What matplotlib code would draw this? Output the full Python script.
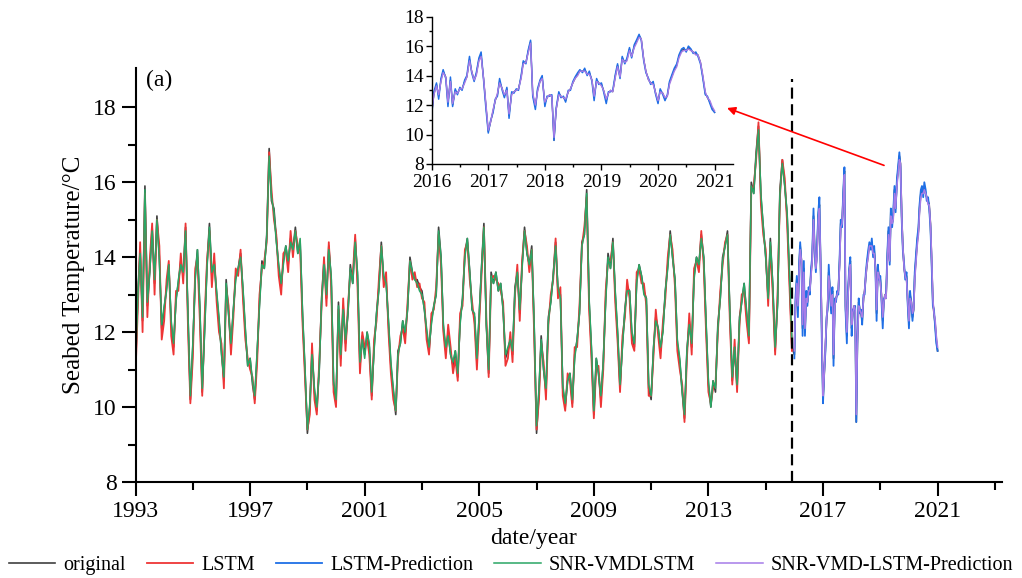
import numpy as np
import pandas as pd
import matplotlib
matplotlib.use("Agg")
import matplotlib.pyplot as plt

plt.rcParams['font.family'] = ['Liberation Serif', 'DejaVu Serif']

# monthly values 1993-01 .. 2015-12 (training part)
orig_train = [
    11.0, 13.1, 14.2, 12.3, 15.9, 12.7, 13.6, 14.8, 13.3, 15.1, 14.0, 12.1,
    12.6, 13.2, 13.8, 12.2, 11.6, 12.9, 13.3, 13.9, 13.5, 14.8, 12.4, 10.2,
    11.6, 13.5, 14.2, 12.6, 10.4, 12.1, 13.8, 14.9, 13.5, 13.9, 13.0, 12.3,
    11.5, 10.7, 13.4, 12.5, 11.6, 12.6, 13.5, 13.7, 14.1, 13.1, 12.0, 11.1,
    11.3, 10.6, 10.2, 11.4, 12.8, 13.9, 13.7, 14.6, 16.9, 15.5, 15.3, 14.5,
    13.7, 13.2, 13.9, 14.3, 13.8, 14.5, 14.2, 14.8, 14.1, 14.4, 12.4, 11.0,
    9.3, 10.0, 11.5, 10.4, 9.9, 11.0, 12.9, 13.9, 12.9, 14.3, 13.4, 10.6,
    10.1, 12.8, 11.3, 12.7, 11.7, 12.5, 13.8, 13.3, 14.5, 13.5, 11.1, 11.9,
    11.4, 12.0, 11.6, 10.3, 11.6, 12.5, 13.2, 14.4, 13.4, 13.4, 12.2, 11.1,
    10.4, 9.8, 11.5, 11.7, 12.3, 11.9, 12.6, 14.0, 13.6, 13.4, 13.4, 13.2,
    13.1, 12.6, 12.0, 11.5, 12.3, 12.7, 13.0, 14.8, 14.0, 12.1, 11.5, 12.0,
    11.4, 11.1, 11.5, 10.8, 12.3, 12.9, 14.1, 14.5, 13.6, 12.6, 12.4, 11.2,
    12.5, 13.8, 14.9, 12.2, 10.9, 13.6, 13.3, 13.6, 13.1, 13.3, 12.6, 11.3,
    11.5, 11.8, 11.4, 13.2, 13.6, 12.5, 13.8, 14.8, 14.1, 13.8, 14.3, 12.2,
    9.3, 10.4, 11.9, 11.0, 10.4, 12.4, 12.8, 13.5, 14.4, 13.1, 13.0, 10.5,
    10.0, 10.7, 10.9, 10.1, 11.4, 11.8, 12.5, 14.4, 14.6, 15.8, 12.8, 11.5,
    9.8, 11.3, 10.9, 10.2, 11.2, 12.9, 14.1, 13.7, 14.5, 13.0, 11.9, 10.5,
    11.7, 12.6, 13.2, 13.1, 11.9, 11.6, 13.4, 13.8, 13.5, 13.1, 12.9, 10.5,
    10.2, 11.6, 12.4, 12.1, 11.5, 12.1, 13.1, 13.8, 14.7, 14.0, 13.4, 11.7,
    11.2, 10.4, 9.7, 11.5, 12.3, 11.6, 13.5, 14.0, 13.8, 14.6, 14.0, 12.2,
    10.6, 10.0, 10.7, 10.4, 12.2, 12.9, 14.0, 14.3, 14.7, 12.5, 10.7, 11.6,
    10.5, 12.4, 12.8, 13.3, 12.5, 11.8, 16.0, 15.7, 16.8, 17.5, 15.6, 14.8,
    14.0, 12.9, 14.5, 13.2, 11.5, 12.8, 15.8, 16.6, 15.9, 15.1, 13.4, 11.6,
]

lstm_train = [
    10.9, 12.7, 14.4, 12.0, 15.7, 12.4, 13.9, 14.9, 13.0, 15.0, 14.3, 11.8,
    12.3, 13.4, 13.9, 11.9, 11.4, 13.1, 13.1, 14.1, 13.3, 14.9, 12.1, 10.1,
    11.3, 13.7, 14.0, 12.3, 10.3, 12.4, 13.9, 14.7, 13.2, 14.1, 12.8, 12.0,
    11.7, 10.5, 13.2, 12.7, 11.4, 12.4, 13.7, 13.5, 14.2, 12.9, 11.8, 11.3,
    11.0, 10.8, 10.1, 11.2, 13.0, 13.7, 13.9, 14.4, 16.8, 15.8, 15.0, 14.6,
    13.5, 13.0, 14.1, 14.2, 13.6, 14.7, 14.0, 14.7, 14.3, 14.2, 12.2, 10.8,
    9.4, 9.8, 11.7, 10.2, 9.8, 11.2, 12.7, 14.0, 12.7, 14.4, 13.2, 10.4,
    10.0, 12.6, 11.1, 12.9, 11.5, 12.7, 13.6, 13.5, 14.6, 13.2, 10.9, 12.0,
    11.6, 11.8, 11.4, 10.2, 11.8, 12.3, 13.4, 14.3, 13.2, 13.6, 12.0, 10.9,
    10.2, 9.9, 11.3, 11.9, 12.1, 11.7, 12.8, 13.9, 13.4, 13.6, 13.2, 13.3,
    12.9, 12.8, 11.8, 11.4, 12.5, 12.6, 13.2, 14.6, 13.8, 12.0, 11.3, 12.2,
    11.6, 10.9, 11.3, 10.7, 12.5, 12.7, 14.2, 14.4, 13.4, 12.8, 12.2, 11.0,
    12.3, 13.6, 14.8, 12.4, 10.8, 13.4, 13.5, 13.4, 13.3, 13.1, 12.8, 11.1,
    11.3, 12.0, 11.2, 13.0, 13.8, 12.3, 13.9, 14.7, 14.3, 13.6, 14.2, 12.0,
    9.4, 10.2, 11.7, 11.2, 10.2, 12.2, 13.0, 13.4, 14.5, 12.9, 13.2, 10.3,
    9.9, 10.9, 10.7, 10.0, 11.6, 11.6, 12.7, 14.3, 14.8, 15.6, 12.6, 11.3,
    9.7, 11.1, 11.1, 10.0, 11.0, 13.1, 13.9, 13.9, 14.4, 12.8, 11.7, 10.4,
    11.9, 12.4, 13.4, 12.9, 11.7, 11.5, 13.6, 13.7, 13.3, 13.3, 12.7, 10.3,
    10.3, 11.4, 12.6, 11.9, 11.3, 12.3, 12.9, 14.0, 14.6, 14.2, 13.2, 11.5,
    11.0, 10.6, 9.6, 11.3, 12.5, 11.4, 13.7, 13.9, 13.6, 14.7, 13.8, 12.0,
    10.4, 10.1, 10.5, 10.6, 12.0, 13.1, 13.8, 14.4, 14.6, 12.3, 10.6, 11.8,
    10.4, 12.2, 13.0, 13.1, 12.3, 11.7, 15.8, 15.9, 16.6, 17.6, 15.4, 14.6,
    14.2, 12.7, 14.3, 13.0, 11.4, 13.0, 15.6, 16.6, 16.1, 14.9, 13.2, 11.5,
]

snr_train = [
    11.1, 13.0, 14.1, 12.4, 15.8, 12.8, 13.6, 14.7, 13.4, 15.0, 13.9, 12.2,
    12.7, 13.1, 13.8, 12.3, 11.7, 12.8, 13.4, 13.8, 13.6, 14.7, 12.5, 10.3,
    11.7, 13.4, 14.2, 12.7, 10.5, 12.0, 13.7, 14.8, 13.6, 13.8, 13.1, 12.4,
    11.4, 10.8, 13.3, 12.5, 11.7, 12.6, 13.4, 13.7, 14.0, 13.2, 12.1, 11.1,
    11.3, 10.7, 10.3, 11.5, 12.7, 13.8, 13.7, 14.5, 16.7, 15.6, 15.2, 14.4,
    13.8, 13.3, 13.8, 14.3, 13.9, 14.4, 14.2, 14.7, 14.1, 14.5, 12.5, 11.1,
    9.4, 10.1, 11.4, 10.5, 10.0, 11.0, 12.8, 13.8, 13.0, 14.2, 13.5, 10.7,
    10.2, 12.7, 11.4, 12.6, 11.8, 12.5, 13.7, 13.3, 14.4, 13.6, 11.2, 11.8,
    11.3, 12.0, 11.7, 10.4, 11.5, 12.5, 13.1, 14.3, 13.5, 13.3, 12.3, 11.2,
    10.5, 9.9, 11.4, 11.7, 12.3, 12.0, 12.6, 13.9, 13.6, 13.4, 13.3, 13.1,
    13.0, 12.6, 12.1, 11.6, 12.2, 12.7, 13.0, 14.7, 14.0, 12.2, 11.6, 11.9,
    11.4, 11.2, 11.5, 10.9, 12.2, 12.9, 14.0, 14.5, 13.6, 12.6, 12.5, 11.3,
    12.5, 13.8, 14.8, 12.2, 11.0, 13.5, 13.3, 13.6, 13.1, 13.3, 12.6, 11.4,
    11.6, 11.8, 11.5, 13.1, 13.6, 12.6, 13.7, 14.7, 14.1, 13.8, 14.2, 12.3,
    9.5, 10.5, 11.8, 11.0, 10.5, 12.3, 12.8, 13.5, 14.3, 13.2, 12.9, 10.6,
    10.1, 10.7, 10.9, 10.2, 11.3, 11.8, 12.5, 14.3, 14.6, 15.7, 12.9, 11.6,
    9.9, 11.3, 10.9, 10.3, 11.2, 12.8, 14.0, 13.7, 14.4, 13.1, 12.0, 10.6,
    11.6, 12.6, 13.1, 13.1, 12.0, 11.7, 13.3, 13.8, 13.5, 13.0, 12.9, 10.6,
    10.3, 11.6, 12.3, 12.1, 11.6, 12.0, 13.1, 13.7, 14.6, 14.0, 13.4, 11.8,
    11.3, 10.4, 9.8, 11.5, 12.2, 11.7, 13.4, 14.0, 13.8, 14.5, 14.0, 12.3,
    10.7, 10.0, 10.7, 10.5, 12.1, 12.9, 13.9, 14.3, 14.6, 12.6, 10.8, 11.6,
    10.6, 12.3, 12.8, 13.3, 12.6, 11.9, 15.9, 15.7, 16.7, 17.4, 15.7, 14.8,
    14.0, 12.9, 14.4, 13.3, 11.6, 12.7, 15.7, 16.5, 15.9, 15.2, 13.5, 11.7,
]

# semi-monthly values 2016-01-01 .. 2021-01-01 (test part)
orig_test = [
    11.4, 12.7, 13.4, 12.6, 13.7, 14.3, 13.9, 12.1, 13.7, 12.0,
    13.0, 12.8, 13.1, 13.1, 13.6, 13.9, 15.1, 14.3, 13.7, 14.1,
    15.1, 15.4, 13.8, 12.1, 10.2, 10.8, 11.6, 12.3, 12.7, 13.6,
    13.1, 12.6, 13.1, 11.3, 12.8, 12.9, 13.0, 13.1, 13.9, 14.9,
    14.9, 15.6, 16.3, 12.7, 11.9, 13.0, 13.6, 13.9, 12.1, 12.5,
    12.7, 12.6, 9.6, 11.7, 12.8, 12.6, 12.5, 12.3, 12.9, 13.1,
    13.5, 13.8, 14.1, 14.3, 14.3, 14.4, 14.1, 14.2, 13.7, 12.5,
    13.7, 13.5, 13.4, 13.0, 12.3, 12.8, 13.0, 12.9, 14.0, 14.7,
    13.9, 15.2, 14.9, 15.1, 15.8, 15.3, 16.0, 16.3, 16.7, 16.5,
    15.1, 14.3, 13.7, 13.5, 13.5, 12.9, 12.2, 13.0, 12.8, 12.4,
    12.6, 13.5, 14.0, 14.4, 14.7, 15.3, 15.7, 15.8, 15.7, 15.9,
    15.7, 15.6, 15.5, 15.4, 14.9, 14.0, 12.8, 12.5, 12.2, 11.8,
    11.5,
]

lstm_pred = [
    11.3, 12.9, 13.5, 12.4, 13.8, 14.4, 13.8, 11.9, 13.9, 11.9,
    13.1, 12.7, 13.2, 13.0, 13.7, 14.0, 15.3, 14.2, 13.6, 14.2,
    15.2, 15.6, 13.7, 11.9, 10.1, 10.9, 11.5, 12.4, 12.6, 13.8,
    13.0, 12.5, 13.2, 11.1, 12.9, 12.8, 13.1, 13.0, 14.0, 15.0,
    14.8, 15.7, 16.4, 12.6, 11.7, 13.1, 13.7, 14.0, 11.9, 12.6,
    12.6, 12.7, 9.6, 11.8, 12.9, 12.5, 12.6, 12.2, 13.0, 13.0,
    13.6, 13.9, 14.2, 14.4, 14.2, 14.5, 14.0, 14.3, 13.6, 12.3,
    13.8, 13.4, 13.5, 12.9, 12.1, 12.9, 12.9, 13.0, 14.1, 14.8,
    13.8, 15.3, 14.8, 15.2, 15.9, 15.2, 16.1, 16.4, 16.8, 16.4,
    15.0, 14.2, 13.8, 13.4, 13.6, 12.8, 12.1, 13.1, 12.7, 12.3,
    12.7, 13.6, 14.1, 14.5, 14.8, 15.4, 15.8, 15.9, 15.6, 16.0,
    15.8, 15.5, 15.6, 15.3, 14.8, 13.9, 12.7, 12.6, 12.1, 11.7,
    11.5,
]

snr_pred = [
    11.5, 12.7, 13.3, 12.7, 13.6, 14.2, 13.9, 12.2, 13.6, 12.1,
    12.9, 12.8, 13.1, 13.1, 13.5, 13.9, 15.0, 14.3, 13.7, 14.0,
    15.0, 15.3, 13.8, 12.2, 10.3, 10.8, 11.7, 12.3, 12.8, 13.5,
    13.1, 12.7, 13.0, 11.4, 12.7, 12.9, 13.0, 13.1, 13.8, 14.8,
    14.9, 15.5, 16.2, 12.8, 12.0, 12.9, 13.6, 13.8, 12.2, 12.5,
    12.7, 12.6, 9.8, 11.7, 12.7, 12.6, 12.5, 12.4, 12.9, 13.1,
    13.5, 13.8, 14.0, 14.3, 14.3, 14.3, 14.1, 14.1, 13.7, 12.6,
    13.6, 13.5, 13.3, 13.0, 12.4, 12.8, 13.0, 12.9, 13.9, 14.6,
    13.9, 15.1, 14.9, 15.0, 15.7, 15.3, 15.9, 16.2, 16.6, 16.5,
    15.1, 14.3, 13.7, 13.5, 13.4, 12.9, 12.3, 12.9, 12.8, 12.5,
    12.6, 13.4, 13.9, 14.3, 14.6, 15.2, 15.6, 15.7, 15.7, 15.8,
    15.7, 15.6, 15.4, 15.4, 14.9, 14.1, 12.9, 12.5, 12.3, 11.9,
    11.6,
]

split_year = 2015.93


def decimal_year(dates):
    return (dates.year + (dates.dayofyear - 1) / 365.25).to_numpy()


t_train = decimal_year(pd.date_range("1993-01-01", "2015-12-01", freq="MS"))
t_test = decimal_year(pd.date_range("2016-01-01", "2021-01-01", freq="SMS"))
t_all = np.concatenate([t_train, t_test])
orig_all = np.concatenate([orig_train, orig_test])

c_orig = "#404040"
c_lstm = "#ee3535"
c_lstm_pred = "#1f6fe6"
c_snr = "#2aa664"
c_snr_pred = "#a67ce8"

fig = plt.figure(figsize=(10.22, 5.78), dpi=100)
ax = fig.add_axes([0.1326, 0.1661, 0.8476, 0.7163])

ax.plot(t_all, orig_all, color=c_orig, lw=1.2, label="original")
ax.plot(t_train, lstm_train, color=c_lstm, lw=1.3, label="LSTM")
ax.plot(t_test, lstm_pred, color=c_lstm_pred, lw=1.3, label="LSTM-Prediction")
ax.plot(t_train, snr_train, color=c_snr, lw=1.1, label="SNR-VMDLSTM")
ax.plot(t_test, snr_pred, color=c_snr_pred, lw=1.1, label="SNR-VMD-LSTM-Prediction")

ax.vlines(split_year, 8, 18.75, colors="k", linestyles=(0, (5, 2.5)), lw=1.6)

ax.set_xlim(1993, 2023.24)
ax.set_ylim(8, 19.05)
ax.set_xticks(np.arange(1993, 2022, 4))
ax.set_xticks(np.arange(1995, 2024, 4), minor=True)
ax.set_yticks(np.arange(8, 19, 2))
ax.set_yticks(np.arange(9, 18, 2), minor=True)
for s in ["top", "right"]:
    ax.spines[s].set_visible(False)
for s in ["left", "bottom"]:
    ax.spines[s].set_linewidth(1.5)
ax.tick_params(which="major", direction="out", length=10, width=1.5, labelsize=17)
ax.tick_params(which="minor", direction="out", length=6, width=1.5)
ax.set_xlabel("date/year", fontsize=17)
ax.xaxis.set_label_coords(0.459, -0.11)
ax.set_ylabel("Seabed Temperature/\u00b0C", fontsize=18, labelpad=6)
ax.text(0.012, 0.97, "(a)", transform=ax.transAxes, fontsize=17, va="center")

# inset with the prediction period
ax_in = fig.add_axes([0.4224, 0.7163, 0.2951, 0.2549])
ax_in.plot(t_test, orig_test, color=c_orig, lw=0.9)
ax_in.plot(t_test, lstm_pred, color=c_lstm_pred, lw=1.1)
ax_in.plot(t_test, snr_pred, color=c_snr_pred, lw=1.0)
ax_in.set_xlim(2016, 2021.33)
ax_in.set_ylim(8, 18)
ax_in.set_xticks(np.arange(2016, 2022, 1))
ax_in.set_xticks(np.arange(2016.5, 2021.4, 1), minor=True)
ax_in.set_yticks(np.arange(8, 19, 2))
ax_in.set_yticks(np.arange(9, 18, 2), minor=True)
for s in ["top", "right"]:
    ax_in.spines[s].set_visible(False)
for s in ["left", "bottom"]:
    ax_in.spines[s].set_linewidth(1.0)
ax_in.tick_params(which="major", direction="out", length=4, width=1.0, labelsize=14)
ax_in.tick_params(axis="x", which="major", pad=3.5)
ax_in.tick_params(axis="y", which="major", pad=1.5)
ax_in.tick_params(which="minor", direction="out", length=2.5, width=1.0)
ax_in.patch.set_alpha(0)

ax_in.annotate("", xy=(2021.22, 11.8), xycoords="data",
               xytext=(2019.13, 16.45), textcoords=ax.transData,
               arrowprops=dict(arrowstyle="-|>", color="red", lw=1.2,
                               mutation_scale=12, shrinkA=0, shrinkB=0))

fig.legend(loc="center", bbox_to_anchor=(0.5, 0.022), ncol=5, frameon=False,
           fontsize=14.5, handlelength=2.3, handletextpad=0.4, columnspacing=1.05,
           borderaxespad=0)

fig.savefig("out.png", dpi=100)
